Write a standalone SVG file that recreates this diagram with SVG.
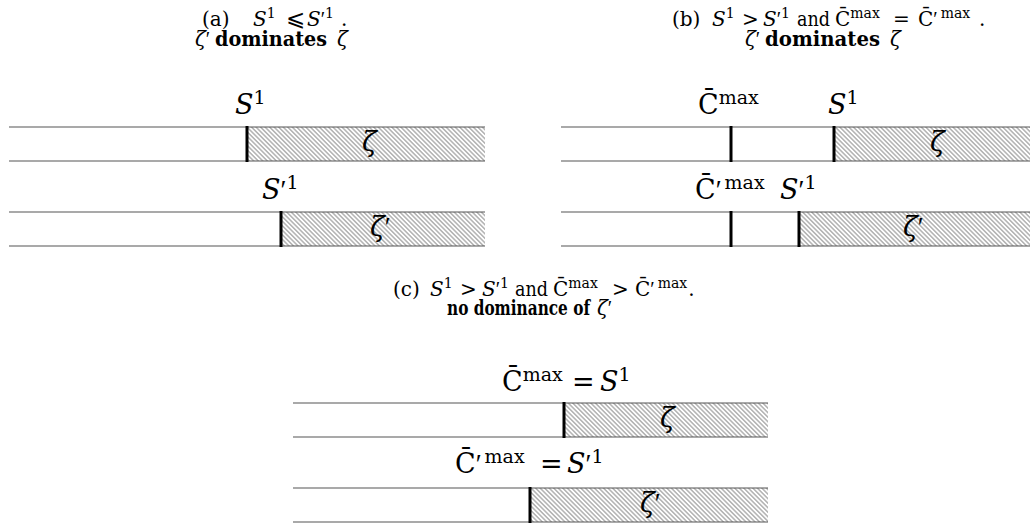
<svg xmlns="http://www.w3.org/2000/svg" width="1030" height="527" viewBox="0 0 1030 527">
<style>
text{font-family:"DejaVu Serif","Liberation Serif",serif;fill:#000}
.t{font-size:20px}
.sup{font-size:14px}
.i{font-style:italic}
.b{font-weight:bold}
.p{font-family:"Liberation Serif","DejaVu Serif",serif;font-style:normal}
.op{font-size:23px}
.L{font-size:27px}
.Ls{font-size:19px}
.rule{stroke:#555;stroke-width:1.2;fill:none}
.mk{stroke:#000;stroke-width:3}
.hatch{fill:url(#hp);stroke:none}
</style>
<defs>
<pattern id="hp" patternUnits="userSpaceOnUse" width="3.2" height="10" patternTransform="rotate(-45)">
<line x1="1.6" y1="-1" x2="1.6" y2="11" stroke="#444" stroke-width="0.7"/>
</pattern>
</defs>
<rect width="1030" height="527" fill="#fff"/>

<!-- Titles -->
<g id="title-a">
<text class="t" y="26"><tspan x="202">(a)</tspan><tspan x="253" class="i">S</tspan><tspan class="sup" dy="-8">1</tspan><tspan x="286" dy="8" class="op">⩽</tspan><tspan x="307" class="i">S</tspan><tspan class="p">′</tspan><tspan class="sup" dy="-8">1</tspan><tspan x="341" dy="8">.</tspan></text>
<text class="t" y="46"><tspan x="195" class="i">ζ</tspan><tspan class="p">′</tspan><tspan x="215" class="b" textLength="112" lengthAdjust="spacingAndGlyphs">dominates</tspan><tspan x="337" class="i">ζ</tspan></text>
</g>
<g id="title-b">
<text class="t" y="26"><tspan x="672">(b)</tspan><tspan x="712" class="i">S</tspan><tspan class="sup" dy="-8">1</tspan><tspan x="742" dy="8">&gt;</tspan><tspan x="763" class="i">S</tspan><tspan class="p">′</tspan><tspan class="sup" dy="-8">1</tspan><tspan x="797" dy="8" textLength="33" lengthAdjust="spacingAndGlyphs">and</tspan><tspan x="835">C̄</tspan><tspan class="sup" dy="-8">max</tspan><tspan x="893" dy="8">=</tspan><tspan x="918">C̄</tspan><tspan class="p">′</tspan><tspan class="sup" dx="3" dy="-8">max</tspan><tspan x="979" dy="8">.</tspan></text>
<text class="t" y="46"><tspan x="745" class="i">ζ</tspan><tspan class="p">′</tspan><tspan x="765" class="b" textLength="115" lengthAdjust="spacingAndGlyphs">dominates</tspan><tspan x="890" class="i">ζ</tspan></text>
</g>
<g id="title-c">
<text class="t" y="296"><tspan x="393">(c)</tspan><tspan x="430" class="i">S</tspan><tspan class="sup" dy="-8">1</tspan><tspan x="460" dy="8">&gt;</tspan><tspan x="482" class="i">S</tspan><tspan class="p">′</tspan><tspan class="sup" dy="-8">1</tspan><tspan x="515" dy="8" textLength="33" lengthAdjust="spacingAndGlyphs">and</tspan><tspan x="553">C̄</tspan><tspan class="sup" dy="-8">max</tspan><tspan x="612" dy="8">&gt;</tspan><tspan x="635">C̄</tspan><tspan class="p">′</tspan><tspan class="sup" dx="3" dy="-8">max</tspan><tspan dx="1" dy="8">.</tspan></text>
<text class="t" y="315"><tspan x="447" class="b" textLength="143" lengthAdjust="spacingAndGlyphs">no dominance of</tspan><tspan x="597" class="i">ζ</tspan><tspan class="p">′</tspan></text>
</g>

<!-- Panel (a) -->
<g id="a-bar1">
<rect class="hatch" x="248" y="127" width="237" height="34"/>
<line class="rule" x1="9" y1="127" x2="485" y2="127"/>
<line class="rule" x1="9" y1="161" x2="485" y2="161"/>
<line class="mk" x1="247" y1="126" x2="247" y2="162"/>
<text class="L" x="362" y="151"><tspan class="i">ζ</tspan></text>
<text class="L" y="114"><tspan x="235" class="i">S</tspan><tspan class="Ls" dy="-10">1</tspan></text>
</g>
<g id="a-bar2">
<rect class="hatch" x="282" y="212" width="203" height="34"/>
<line class="rule" x1="9" y1="212" x2="485" y2="212"/>
<line class="rule" x1="9" y1="246" x2="485" y2="246"/>
<line class="mk" x1="281" y1="211" x2="281" y2="247"/>
<text class="L" x="370" y="236"><tspan class="i">ζ</tspan><tspan class="p">′</tspan></text>
<text class="L" y="199"><tspan x="262" class="i">S</tspan><tspan class="p">′</tspan><tspan class="Ls" dy="-10">1</tspan></text>
</g>

<!-- Panel (b) -->
<g id="b-bar1">
<rect class="hatch" x="835" y="127" width="195" height="34"/>
<line class="rule" x1="561" y1="127" x2="1030" y2="127"/>
<line class="rule" x1="561" y1="161" x2="1030" y2="161"/>
<line class="mk" x1="731" y1="126" x2="731" y2="162"/>
<line class="mk" x1="834" y1="126" x2="834" y2="162"/>
<text class="L" x="930" y="151"><tspan class="i">ζ</tspan></text>
<text class="L" y="114"><tspan x="698">C̄</tspan><tspan class="Ls" dy="-10">max</tspan></text>
<text class="L" y="114"><tspan x="828" class="i">S</tspan><tspan class="Ls" dy="-10">1</tspan></text>
</g>
<g id="b-bar2">
<rect class="hatch" x="800" y="212" width="230" height="34"/>
<line class="rule" x1="561" y1="212" x2="1030" y2="212"/>
<line class="rule" x1="561" y1="246" x2="1030" y2="246"/>
<line class="mk" x1="731" y1="211" x2="731" y2="247"/>
<line class="mk" x1="799" y1="211" x2="799" y2="247"/>
<text class="L" x="903" y="236"><tspan class="i">ζ</tspan><tspan class="p">′</tspan></text>
<text class="L" y="199"><tspan x="695">C̄</tspan><tspan class="p">′</tspan><tspan class="Ls" dx="3" dy="-10">max</tspan></text>
<text class="L" y="199"><tspan x="780" class="i">S</tspan><tspan class="p">′</tspan><tspan class="Ls" dy="-10">1</tspan></text>
</g>

<!-- Panel (c) -->
<g id="c-bar1">
<rect class="hatch" x="565" y="403" width="203" height="34"/>
<line class="rule" x1="293" y1="403" x2="768" y2="403"/>
<line class="rule" x1="293" y1="437" x2="768" y2="437"/>
<line class="mk" x1="564" y1="402" x2="564" y2="438"/>
<text class="L" x="660" y="427"><tspan class="i">ζ</tspan></text>
<text class="L" y="391"><tspan x="502">C̄</tspan><tspan class="Ls" dy="-10">max</tspan><tspan x="572" dy="10">=</tspan><tspan x="600" class="i">S</tspan><tspan class="Ls" dy="-10">1</tspan></text>
</g>
<g id="c-bar2">
<rect class="hatch" x="531" y="488" width="237" height="34"/>
<line class="rule" x1="293" y1="488" x2="768" y2="488"/>
<line class="rule" x1="293" y1="522" x2="768" y2="522"/>
<line class="mk" x1="530" y1="487" x2="530" y2="523"/>
<text class="L" x="640" y="512"><tspan class="i">ζ</tspan><tspan class="p">′</tspan></text>
<text class="L" y="473"><tspan x="455">C̄</tspan><tspan class="p">′</tspan><tspan class="Ls" dx="3" dy="-10">max</tspan><tspan x="540" dy="10">=</tspan><tspan x="567" class="i">S</tspan><tspan class="p">′</tspan><tspan class="Ls" dy="-10">1</tspan></text>
</g>
</svg>
